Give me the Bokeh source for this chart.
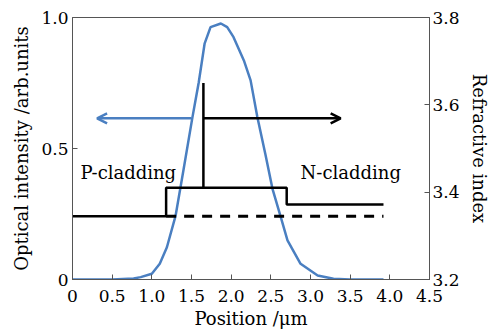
from bokeh.plotting import figure
from bokeh.models import Range1d, LinearAxis, FixedTicker, Arrow, OpenHead, CustomJSTickFormatter
from bokeh.core.properties import value
from bokeh.embed import file_html
from bokeh.resources import INLINE

# Optical intensity profile
pos = [0, 0.5, 0.77, 0.86, 1.0, 1.1, 1.19, 1.30, 1.40, 1.51, 1.55, 1.59, 1.665, 1.74, 1.87,
       1.95, 2.03, 2.16, 2.245, 2.33, 2.43, 2.52, 2.62, 2.71, 2.875, 3.09, 3.29, 3.5, 3.92]
intensity = [0, 0.0, 0.004, 0.009, 0.022, 0.06, 0.123, 0.244, 0.42, 0.616, 0.683, 0.75, 0.90,
             0.963, 0.977, 0.963, 0.925, 0.836, 0.76, 0.62, 0.48, 0.347, 0.244, 0.149, 0.06,
             0.015, 0.003, 0.0, 0.0]

# Refractive index profile (solid)
n_x = [0, 1.18, 1.18, 1.65, 1.65, 1.65, 1.65, 2.70, 2.70, 3.92]
n_y = [3.345, 3.345, 3.41, 3.41, 3.65, 3.65, 3.41, 3.41, 3.372, 3.372]
# dashed reference line
dash_x = [1.18, 3.92]
dash_y = [3.345, 3.345]
# arrows
arrow_y_intensity = 0.615
blue_arrow_x = [1.50, 0.31]
black_arrow_x = [1.65, 3.38]
# labels
labels = ["P-cladding", "N-cladding"]
label_x = [0.10, 2.875]
label_y = [0.408, 0.408]

x_ticks = [0, 0.5, 1.0, 1.5, 2.0, 2.5, 3.0, 3.5, 4.0, 4.5]
left_ticks = [0, 0.5, 1.0]
right_ticks = [3.2, 3.4, 3.6, 3.8]

FONT = "'DejaVu Serif', 'Liberation Serif', serif"
AX = "#555555"
BLUE = "#4a7fc1"

p = figure(width=503, height=331, output_backend="svg", toolbar_location=None,
           x_range=Range1d(0, 4.5), y_range=Range1d(0, 1.0),
           min_border_left=72, min_border_right=74, min_border_top=17, min_border_bottom=52)
p.extra_y_ranges = {"n": Range1d(3.2, 3.8)}
p.grid.visible = False
p.outline_line_color = AX
p.outline_line_width = 1
p.background_fill_color = "white"
p.border_fill_color = "white"

p.line(pos, intensity, line_color=BLUE, line_width=2.5)
p.line(n_x, n_y, y_range_name="n", line_color="black", line_width=2.5)
p.line(dash_x, dash_y, y_range_name="n", line_color="black", line_width=3, line_dash="10 8")

p.add_layout(Arrow(end=OpenHead(size=10, line_color=BLUE, line_width=2.5),
                   x_start=blue_arrow_x[0], y_start=arrow_y_intensity,
                   x_end=blue_arrow_x[1], y_end=arrow_y_intensity,
                   line_color=BLUE, line_width=2.5))
p.add_layout(Arrow(end=OpenHead(size=10, line_color="black", line_width=2.5),
                   x_start=black_arrow_x[0], y_start=arrow_y_intensity,
                   x_end=black_arrow_x[1], y_end=arrow_y_intensity,
                   line_color="black", line_width=2.5))

p.text(label_x, label_y, text=labels, text_font=value(FONT), text_font_size="18px",
       text_baseline="middle", text_align="left", text_color="black")

fmt = CustomJSTickFormatter(code="return tick == 0 ? '0' : tick.toFixed(1);")

def style(ax):
    ax.axis_line_color = AX
    ax.major_tick_line_color = AX
    ax.major_tick_in = 5
    ax.major_tick_out = 0
    ax.minor_tick_line_color = None
    ax.major_label_text_font = FONT
    ax.major_label_text_font_size = "17px"
    ax.major_label_text_color = "black"
    ax.axis_label_text_font = FONT
    ax.axis_label_text_font_size = "18px"
    ax.axis_label_text_font_style = "normal"
    ax.axis_label_text_color = "black"

xa = p.xaxis[0]
xa.ticker = FixedTicker(ticks=x_ticks)
xa.formatter = fmt
xa.axis_label = "Position /μm"
xa.axis_label_standoff = 3
xa.major_label_standoff = 10
style(xa)

ya = p.yaxis[0]
ya.ticker = FixedTicker(ticks=left_ticks)
ya.formatter = fmt
ya.axis_label = "Optical intensity /arb.units"
ya.axis_label_standoff = 6
ya.major_label_standoff = 4
style(ya)

ra = LinearAxis(y_range_name="n", ticker=FixedTicker(ticks=right_ticks), formatter=fmt,
                axis_label="Refractive index")
ra.axis_label_standoff = 6
ra.major_label_standoff = 3
style(ra)
p.add_layout(ra, "right")

open("out.html", "w").write(file_html(p, INLINE))
